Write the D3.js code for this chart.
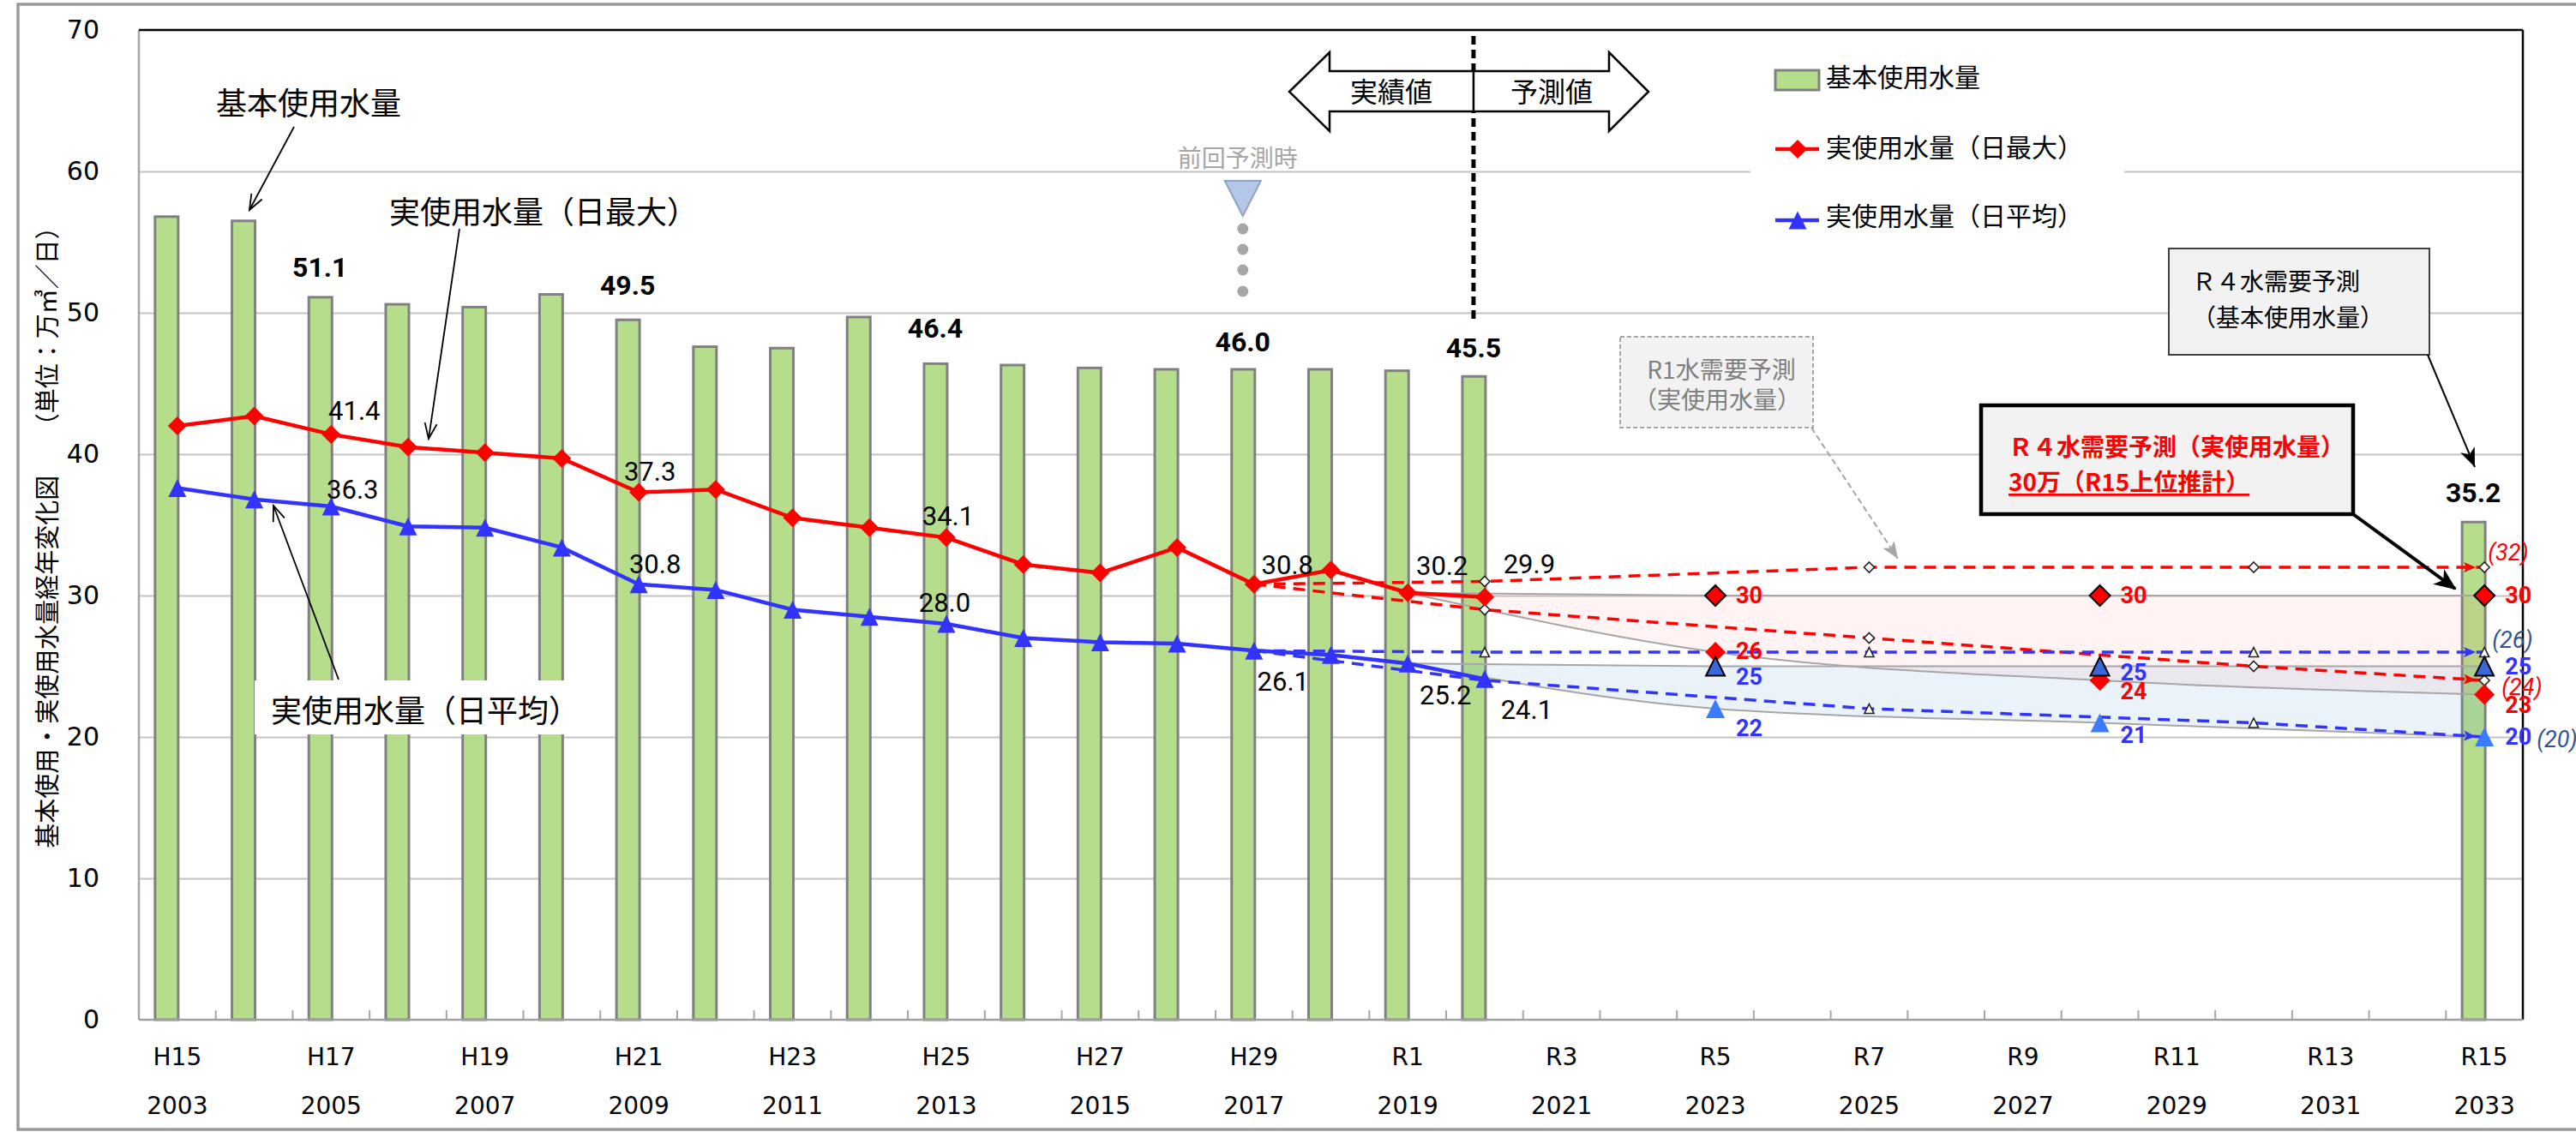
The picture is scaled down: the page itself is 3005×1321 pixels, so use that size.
<!DOCTYPE html>
<html>
<head>
<meta charset="utf-8">
<script src="https://cdnjs.cloudflare.com/ajax/libs/d3/7.8.5/d3.min.js"></script>
<style>
  body { margin: 0; background: #fff; }
  svg { display: block; }
  .jp { font-family: "Noto Sans CJK JP", sans-serif; }
  .num { font-family: Roboto, "Noto Sans", sans-serif; }
  .tick text { font-family: "DejaVu Sans", sans-serif; fill: #000; }
</style>
</head>
<body>
<div id="chart"></div>
<script>
// categories (fiscal years) and axis labels
var years = [2003, 2004, 2005, 2006, 2007, 2008, 2009, 2010, 2011, 2012, 2013, 2014, 2015, 2016,
  2017, 2018, 2019, 2020, 2021, 2022, 2023, 2024, 2025, 2026, 2027, 2028, 2029, 2030, 2031, 2032, 2033];
var tickYears = [2003, 2005, 2007, 2009, 2011, 2013, 2015, 2017, 2019, 2021, 2023, 2025, 2027, 2029, 2031, 2033];
var eraLabels = ["H15", "H17", "H19", "H21", "H23", "H25", "H27", "H29", "R1", "R3", "R5", "R7", "R9", "R11", "R13", "R15"];
var yTicks = [0, 10, 20, 30, 40, 50, 60, 70];

// 基本使用水量 (bars)
var basicYears = [2003, 2004, 2005, 2006, 2007, 2008, 2009, 2010, 2011, 2012, 2013, 2014, 2015, 2016, 2017, 2018, 2019, 2020, 2033];
var basicValues = [56.8, 56.5, 51.1, 50.6, 50.4, 51.3, 49.5, 47.6, 47.5, 49.7, 46.4, 46.3, 46.1, 46.0, 46.0, 46.0, 45.9, 45.5, 35.2];
var basicLabelYears = [2005, 2009, 2013, 2017, 2020, 2033];

// 実績 (actual) lines
var actualYears = [2003, 2004, 2005, 2006, 2007, 2008, 2009, 2010, 2011, 2012, 2013, 2014, 2015, 2016, 2017, 2018, 2019, 2020];
var maxValues = [42.0, 42.7, 41.4, 40.5, 40.1, 39.7, 37.3, 37.5, 35.5, 34.8, 34.1, 32.2, 31.6, 33.4, 30.8, 31.8, 30.2, 29.9];
var avgValues = [37.6, 36.8, 36.3, 34.9, 34.8, 33.4, 30.8, 30.4, 29.0, 28.5, 28.0, 27.0, 26.7, 26.6, 26.1, 25.8, 25.2, 24.1];
var maxLabelYears = [2005, 2009, 2013, 2017, 2019, 2020];
var avgLabelYears = [2005, 2009, 2013, 2017, 2019, 2020];

// R1 水需要予測 (previous forecast, dashed)
var r1Years = [2017, 2020, 2025, 2030, 2033];
var r1MaxHigh = [30.8, 31, 32, 32, 32];
var r1MaxLow = [30.8, 29, 27, 25, 24];
var r1AvgHigh = [26.1, 26, 26, 26, 26];
var r1AvgLow = [26.1, 24, 22, 21, 20];

// R4 水需要予測 (new forecast, bands)
var r4Years = [2019, 2023, 2028, 2033];
var r4MaxHigh = [30.2, 30, 30, 30];
var r4MaxLow = [30.2, 26, 24, 23];
var r4AvgHigh = [25.2, 25, 25, 25];
var r4AvgLow = [25.2, 22, 21, 20];

// label nudges (pixels), kept apart from the values
var basicLabelDy = [-35, -40, -41, -32, -33, -34];
var maxLabelOff = [[27, -27], [13, -24], [2, -25], [39, -22], [40, -31], [52, -38]];
var avgLabelOff = [[25, -20], [19, -23], [-2, -25], [34, 36], [44, 37], [49, 36]];
var r4MaxHighDy = [0, 0, 0];
var r4MaxLowDy = [-1, 13, 12];
var r4AvgHighDy = [12, 7, 0];
var r4AvgLowDy = [23, 14, 0];
var r1EndOff = [[4, -17], [20, 8], [9, -14], [61, 3]];

var W = 3005, H = 1321;
var plotL = 162, plotR = 2943, plotT = 35, plotB = 1190;

var svg = d3.select("#chart").append("svg")
  .attr("width", W).attr("height", H);
svg.append("rect").attr("width", W).attr("height", H).attr("fill", "#fff");

var defs = svg.append("defs");
function arrowDef(id, d, w, h, refX, fill, stroke) {
  var m = defs.append("marker").attr("id", id)
    .attr("markerUnits", "userSpaceOnUse")
    .attr("viewBox", "0 0 " + w + " " + h)
    .attr("markerWidth", w).attr("markerHeight", h)
    .attr("refX", refX).attr("refY", h / 2)
    .attr("orient", "auto").style("overflow", "visible");
  m.append("path").attr("d", d)
    .attr("fill", fill).attr("stroke", stroke || "none")
    .attr("stroke-width", 1.8);
}
arrowDef("openArrow", "M1,1 L19,8 L1,15", 20, 16, 19, "none", "#000");
arrowDef("grayArrow", "M0,0 L20,8 L0,16 L5,8 Z", 20, 16, 20, "#A6A6A6");
arrowDef("blackArrow", "M0,0 L22,9 L0,18 L6,9 Z", 22, 18, 22, "#000");
arrowDef("thickArrow", "M0,0 L26,11 L0,22 L7,11 Z", 26, 22, 24, "#000");
arrowDef("redArrow", "M0,0 L14,6 L0,12 L3,6 Z", 14, 12, 24, "#FF0000");
arrowDef("blueArrow", "M0,0 L14,6 L0,12 L3,6 Z", 14, 12, 24, "#3333FF");

var x = d3.scaleBand().domain(years).range([plotL, plotR]).padding(0);
var y = d3.scaleLinear().domain([0, 70]).range([plotB, plotT]);
function cx(yr) { return x(yr) + x.bandwidth() / 2; }
function barMid(yr) { return cx(yr) - 13; }

// outer frame
svg.append("rect").attr("x", 21).attr("y", 5).attr("width", 3060).attr("height", 1313)
  .attr("fill", "none").attr("stroke", "#9A9A9A").attr("stroke-width", 3.5);

// gridlines
var grid = svg.append("g").attr("transform", "translate(" + plotL + ",0)")
  .call(d3.axisLeft(y).tickValues([10, 20, 30, 40, 50, 60]).tickSize(-(plotR - plotL)).tickFormat(""));
grid.select(".domain").remove();
grid.selectAll("line").attr("stroke", "#C3C3C3").attr("stroke-width", 2);

// y axis labels
var yAxis = svg.append("g").attr("transform", "translate(" + plotL + ",0)")
  .call(d3.axisLeft(y).tickValues(yTicks).tickSize(0).tickPadding(46));
yAxis.select(".domain").remove();
yAxis.selectAll("text").attr("font-size", 30);

// x axis labels: era row and year row
var xEra = svg.append("g").attr("transform", "translate(0," + plotB + ")")
  .call(d3.axisBottom(x).tickValues(tickYears).tickSize(0)
    .tickFormat(function (d) { return eraLabels[tickYears.indexOf(d)]; }));
xEra.select(".domain").remove();
xEra.selectAll("text").attr("y", 43).attr("dy", "0.35em").attr("font-size", 28);

var xYear = svg.append("g").attr("transform", "translate(0," + plotB + ")")
  .call(d3.axisBottom(x).tickValues(tickYears).tickSize(0));
xYear.select(".domain").remove();
xYear.selectAll("text").attr("y", 100).attr("dy", "0.35em").attr("font-size", 28);

// plot frame
svg.append("line").attr("x1", plotL).attr("x2", plotL).attr("y1", plotT).attr("y2", plotB)
  .attr("stroke", "#A6A6A6").attr("stroke-width", 2.5);
svg.append("line").attr("x1", plotL).attr("x2", plotR).attr("y1", plotT).attr("y2", plotT)
  .attr("stroke", "#000").attr("stroke-width", 2.5);
svg.append("line").attr("x1", plotR).attr("x2", plotR).attr("y1", plotT).attr("y2", plotB)
  .attr("stroke", "#000").attr("stroke-width", 2.5);

// tick marks at category boundaries
svg.append("g").selectAll("line").data(years.slice(1)).join("line")
  .attr("x1", function (d) { return x(d); }).attr("x2", function (d) { return x(d); })
  .attr("y1", plotB - 11).attr("y2", plotB)
  .attr("stroke", "#A6A6A6").attr("stroke-width", 2);

// bars
svg.append("g").selectAll("rect").data(basicYears).join("rect")
  .attr("x", function (d) { return cx(d) - 26; })
  .attr("width", 27)
  .attr("y", function (d, i) { return y(basicValues[i]); })
  .attr("height", function (d, i) { return plotB - y(basicValues[i]); })
  .attr("fill", "#B6DD8B").attr("stroke", "#808080").attr("stroke-width", 3);

svg.append("line").attr("x1", plotL).attr("x2", plotR).attr("y1", plotB).attr("y2", plotB)
  .attr("stroke", "#A0A0A0").attr("stroke-width", 2.5);

// R4 forecast bands
var idx4 = r4Years.map(function (d, i) { return i; });
function band(hi, lo) {
  return d3.area()
    .x(function (i) { return cx(r4Years[i]); })
    .y0(function (i) { return y(lo[i]); })
    .y1(function (i) { return y(hi[i]); })
    .curve(d3.curveMonotoneX)(idx4);
}
function bandLine(v) {
  return d3.line()
    .x(function (i) { return cx(r4Years[i]); })
    .y(function (i) { return y(v[i]); })
    .curve(d3.curveMonotoneX)(idx4);
}
svg.append("path").attr("d", band(r4MaxHigh, r4MaxLow)).attr("fill", "#FF5a5a").attr("fill-opacity", 0.07);
svg.append("path").attr("d", band(r4AvgHigh, r4AvgLow)).attr("fill", "#5B9BD5").attr("fill-opacity", 0.13);
[r4MaxHigh, r4MaxLow, r4AvgHigh, r4AvgLow].forEach(function (v) {
  svg.append("path").attr("d", bandLine(v)).attr("fill", "none")
    .attr("stroke", "#A6A6A6").attr("stroke-width", 2);
});

// label box for the average line
svg.append("rect").attr("x", 297).attr("y", 794).attr("width", 361).attr("height", 63).attr("fill", "#fff");

// marker shapes
function diamond(r) { return "M0," + (-r) + "L" + r + ",0L0," + r + "L" + (-r) + ",0Z"; }
function triangle(r) { return "M0," + (-r) + "L" + r + "," + r + "L" + (-r) + "," + r + "Z"; }

// actual lines
var lineGen = function (ys, vals) {
  return d3.line().x(function (d) { return cx(d); })
    .y(function (d, i) { return y(vals[i]); })(ys);
};
svg.append("path").attr("d", lineGen(actualYears, maxValues))
  .attr("fill", "none").attr("stroke", "#FF0000").attr("stroke-width", 4.5);
svg.append("path").attr("d", lineGen(actualYears, avgValues))
  .attr("fill", "none").attr("stroke", "#3333FF").attr("stroke-width", 4.5);

// R1 forecast dashed lines
function r1Line(vals, color, arrowId) {
  svg.append("path").attr("d", lineGen(r1Years, vals))
    .attr("fill", "none").attr("stroke", color).attr("stroke-width", 3.5)
    .attr("stroke-dasharray", "14,9").attr("marker-end", "url(#" + arrowId + ")");
}
r1Line(r1MaxHigh, "#FF0000", "redArrow");
r1Line(r1MaxLow, "#FF0000", "redArrow");
r1Line(r1AvgHigh, "#3333FF", "blueArrow");
r1Line(r1AvgLow, "#3333FF", "blueArrow");

function hollow(vals, shape) {
  svg.append("g").selectAll("path").data(r1Years.slice(1)).join("path")
    .attr("transform", function (d, i) { return "translate(" + cx(d) + "," + y(vals[i + 1]) + ")"; })
    .attr("d", shape).attr("fill", "#fff").attr("stroke", "#222").attr("stroke-width", 1.6);
}
hollow(r1MaxHigh, diamond(6));
hollow(r1MaxLow, diamond(6));
hollow(r1AvgHigh, triangle(5.5));
hollow(r1AvgLow, triangle(5.5));

// actual markers
svg.append("g").selectAll("path").data(actualYears).join("path")
  .attr("transform", function (d, i) { return "translate(" + cx(d) + "," + y(maxValues[i]) + ")"; })
  .attr("d", diamond(11)).attr("fill", "#FF0000");
svg.append("g").selectAll("path").data(actualYears).join("path")
  .attr("transform", function (d, i) { return "translate(" + cx(d) + "," + y(avgValues[i]) + ")"; })
  .attr("d", triangle(10.5)).attr("fill", "#3333FF");

// R4 markers (skip the 2019 anchor)
function r4Marks(vals, shape, fill, stroke) {
  svg.append("g").selectAll("path").data(r4Years.slice(1)).join("path")
    .attr("transform", function (d, i) { return "translate(" + cx(d) + "," + y(vals[i + 1]) + ")"; })
    .attr("d", shape).attr("fill", fill)
    .attr("stroke", stroke || "none").attr("stroke-width", 2);
}
r4Marks(r4MaxHigh, diamond(12), "#FF0000", "#000");
r4Marks(r4MaxLow, diamond(12), "#FF0000");
r4Marks(r4AvgLow, triangle(11), "#3B7BFF");
r4Marks(r4AvgHigh, triangle(11), "#3A68D8", "#000");

// data labels
function labels(ys, vals, fmt, offs) {
  svg.append("g").selectAll("text").data(ys).join("text")
    .attr("class", "num")
    .attr("x", function (d, i) { return cx(d) + offs[i][0]; })
    .attr("y", function (d, i) { return y(vals[actualYears.indexOf(d)]) + offs[i][1]; })
    .attr("text-anchor", "middle").attr("dominant-baseline", "central")
    .attr("font-size", 31).attr("fill", "#000")
    .text(function (d) { return fmt(vals[actualYears.indexOf(d)]); });
}
labels(maxLabelYears, maxValues, d3.format(".1f"), maxLabelOff);
labels(avgLabelYears, avgValues, d3.format(".1f"), avgLabelOff);

svg.append("g").selectAll("text").data(basicLabelYears).join("text")
  .attr("class", "num")
  .attr("x", function (d) { return barMid(d); })
  .attr("y", function (d, i) { return y(basicValues[basicYears.indexOf(d)]) + basicLabelDy[i]; })
  .attr("text-anchor", "middle").attr("dominant-baseline", "central")
  .attr("font-size", 32).attr("font-weight", "bold")
  .text(function (d) { return d3.format(".1f")(basicValues[basicYears.indexOf(d)]); });

function r4Labels(vals, dys, color) {
  svg.append("g").selectAll("text").data(r4Years.slice(1)).join("text")
    .attr("class", "num")
    .attr("x", function (d) { return cx(d) + 24; })
    .attr("y", function (d, i) { return y(vals[i + 1]) + dys[i]; })
    .attr("dominant-baseline", "central")
    .attr("font-size", 27).attr("font-weight", "bold").attr("fill", color)
    .text(function (d, i) { return d3.format("d")(vals[i + 1]); });
}
r4Labels(r4MaxHigh, r4MaxHighDy, "#FF0000");
r4Labels(r4MaxLow, r4MaxLowDy, "#FF0000");
r4Labels(r4AvgHigh, r4AvgHighDy, "#3333FF");
r4Labels(r4AvgLow, r4AvgLowDy, "#3333FF");

// R1 end values in brackets
var r1Ends = [r1MaxHigh, r1MaxLow, r1AvgHigh, r1AvgLow];
var r1EndColors = ["#FF0000", "#FF0000", "#2F5597", "#2F5597"];
var lastI = r1Years.length - 1;
svg.append("g").selectAll("text").data(r1Ends).join("text")
  .attr("class", "num")
  .attr("x", function (d, i) { return cx(r1Years[lastI]) + r1EndOff[i][0]; })
  .attr("y", function (d, i) { return y(d[lastI]) + r1EndOff[i][1]; })
  .attr("dominant-baseline", "central")
  .attr("font-size", 27).attr("font-style", "italic")
  .attr("fill", function (d, i) { return r1EndColors[i]; })
  .text(function (d) { return "(" + d[lastI] + ")"; });

// ---- annotations ----
function jpText(txt, px, py, size, opts) {
  opts = opts || {};
  return svg.append("text").attr("class", "jp")
    .attr("x", px).attr("y", py).attr("font-size", size)
    .attr("dominant-baseline", "central")
    .attr("text-anchor", opts.anchor || "start")
    .attr("fill", opts.fill || "#000")
    .attr("font-weight", opts.weight || "normal")
    .text(txt);
}
function arrow(x1, y1, x2, y2, marker, width, color, dash) {
  svg.append("line").attr("x1", x1).attr("y1", y1).attr("x2", x2).attr("y2", y2)
    .attr("stroke", color || "#000").attr("stroke-width", width || 1.8)
    .attr("stroke-dasharray", dash || null)
    .attr("marker-end", "url(#" + marker + ")");
}

jpText("基本使用水量", 360, 118, 36, { anchor: "middle" });
arrow(343, 148, 291, 245, "openArrow");
jpText("実使用水量（日最大）", 454, 245, 36);
arrow(536, 267, 500, 512, "openArrow");
jpText("実使用水量（日平均）", 316, 827, 36);
arrow(395, 793, 319, 590, "openArrow");

// y title
svg.append("text").attr("class", "jp")
  .attr("transform", "translate(53,620) rotate(-90)")
  .attr("text-anchor", "middle").attr("dominant-baseline", "central")
  .attr("font-size", 29)
  .text("基本使用・実使用水量経年変化図　　（単位：万㎥／日）");

// actual / forecast divider
var divX = barMid(2020);
svg.append("line").attr("x1", divX).attr("x2", divX).attr("y1", 42).attr("y2", 377)
  .attr("stroke", "#000").attr("stroke-width", 5).attr("stroke-dasharray", "10,6");
var arrowPath = d3.path();
arrowPath.moveTo(1504, 107); arrowPath.lineTo(1551, 61); arrowPath.lineTo(1551, 83);
arrowPath.lineTo(1877, 83); arrowPath.lineTo(1877, 61); arrowPath.lineTo(1923, 107);
arrowPath.lineTo(1877, 153); arrowPath.lineTo(1877, 130); arrowPath.lineTo(1551, 130);
arrowPath.lineTo(1551, 153); arrowPath.closePath();
svg.append("path").attr("d", arrowPath.toString())
  .attr("fill", "#fff").attr("stroke", "#000").attr("stroke-width", 2.5);
svg.append("line").attr("x1", divX).attr("x2", divX).attr("y1", 83).attr("y2", 130)
  .attr("stroke", "#000").attr("stroke-width", 2.5);
jpText("実績値", 1623, 105, 32, { anchor: "middle" });
jpText("予測値", 1810, 105, 32, { anchor: "middle" });

// previous forecast timing marker
var prevX = barMid(2017);
jpText("前回予測時", prevX - 6, 183, 28, { anchor: "middle", fill: "#A6A6A6" });
svg.append("path")
  .attr("d", "M" + (prevX - 21) + ",211L" + (prevX + 21) + ",211L" + prevX + ",252Z")
  .attr("fill", "#B4C7E7").attr("stroke", "#8EA4C4").attr("stroke-width", 2);
svg.append("g").selectAll("circle").data([267, 291, 315, 340]).join("circle")
  .attr("cx", prevX).attr("cy", function (d) { return d; }).attr("r", 6.5)
  .attr("fill", "#A6A6A6");

// legend
svg.append("rect").attr("x", 2042).attr("y", 40).attr("width", 436).attr("height", 262).attr("fill", "#fff");
svg.append("rect").attr("x", 2071).attr("y", 82).attr("width", 51).attr("height", 23)
  .attr("fill", "#B6DD8B").attr("stroke", "#808080").attr("stroke-width", 3);
jpText("基本使用水量", 2130, 88, 30);
svg.append("line").attr("x1", 2071).attr("x2", 2122).attr("y1", 174).attr("y2", 174)
  .attr("stroke", "#FF0000").attr("stroke-width", 4.5);
svg.append("path").attr("transform", "translate(2097,174)").attr("d", diamond(11)).attr("fill", "#FF0000");
jpText("実使用水量（日最大）", 2130, 170, 30);
svg.append("line").attr("x1", 2071).attr("x2", 2122).attr("y1", 257).attr("y2", 257)
  .attr("stroke", "#3333FF").attr("stroke-width", 4.5);
svg.append("path").attr("transform", "translate(2097,257)").attr("d", triangle(10.5)).attr("fill", "#3333FF");
jpText("実使用水量（日平均）", 2130, 250, 30);

// R1 callout
svg.append("rect").attr("x", 1890).attr("y", 393).attr("width", 225).attr("height", 106)
  .attr("fill", "#F2F2F2").attr("stroke", "#A6A6A6").attr("stroke-width", 2)
  .attr("stroke-dasharray", "5,3");
jpText("R1水需要予測", 2008, 430, 28, { anchor: "middle", fill: "#7F7F7F" });
jpText("（実使用水量）", 2003, 465, 28, { anchor: "middle", fill: "#7F7F7F" });
arrow(2113, 499, 2214, 652, "grayArrow", 2, "#A6A6A6", "7,4");

// R4 basic callout
svg.append("rect").attr("x", 2530).attr("y", 290).attr("width", 304).attr("height", 124)
  .attr("fill", "#F2F2F2").attr("stroke", "#404040").attr("stroke-width", 2);
jpText("Ｒ４水需要予測", 2557, 327, 28);
jpText("（基本使用水量）", 2557, 369, 28);
arrow(2832, 414, 2887, 545, "blackArrow", 2);

// R4 actual callout
svg.append("rect").attr("x", 2311).attr("y", 473).attr("width", 434).attr("height", 127)
  .attr("fill", "#F2F2F2").attr("stroke", "#000").attr("stroke-width", 4.5);
jpText("Ｒ４水需要予測（実使用水量）", 2343, 520, 28, { fill: "#FF0000", weight: "bold" });
jpText("30万（R15上位推計）", 2343, 561, 28, { fill: "#FF0000", weight: "bold" })
  .attr("text-decoration", "underline");
arrow(2745, 600, 2864, 687, "thickArrow", 4);
</script>
</body>
</html>
